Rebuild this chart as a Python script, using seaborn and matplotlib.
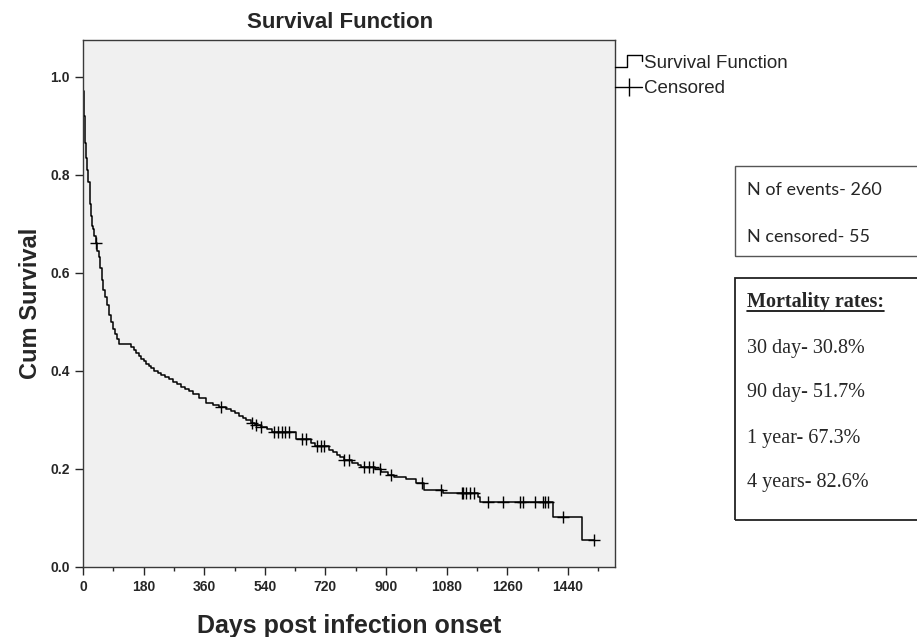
import numpy as np
import pandas as pd
import seaborn as sns
import matplotlib.pyplot as plt
from matplotlib.lines import Line2D
from matplotlib.patches import Rectangle
from matplotlib.legend_handler import HandlerBase
from matplotlib.ticker import MultipleLocator

# Kaplan-Meier 曲线
km_days = [0, 1, 2, 3, 5, 7, 10, 13, 16, 20, 24, 28, 30, 34, 38, 42, 47, 51, 55, 60,
           66, 72, 77, 83, 89, 95, 101, 107, 143, 150, 158, 166, 173, 180, 187, 195,
           203, 211, 222, 232, 244, 256, 268, 280, 292, 303, 315, 327, 345, 366, 385,
           405, 425, 440, 452, 464, 475, 485, 500, 512, 530, 547, 560, 634, 678, 688,
           732, 743, 753, 764, 774, 800, 816, 827, 866, 885, 905, 925, 960, 990, 1014,
           1068, 1172, 1178, 1395, 1482]
km_surv = [1.0, 0.97, 0.945, 0.92, 0.89, 0.865, 0.835, 0.81, 0.785, 0.74, 0.715, 0.695,
           0.69, 0.675, 0.66, 0.645, 0.632, 0.61, 0.585, 0.565, 0.55, 0.535, 0.515, 0.5,
           0.485, 0.475, 0.465, 0.455, 0.449, 0.443, 0.437, 0.431, 0.425, 0.42, 0.415,
           0.41, 0.405, 0.4, 0.396, 0.392, 0.388, 0.384, 0.378, 0.373, 0.368, 0.363,
           0.358, 0.353, 0.345, 0.334, 0.33, 0.327, 0.322, 0.318, 0.314, 0.309, 0.304,
           0.299, 0.294, 0.29, 0.286, 0.281, 0.275, 0.261, 0.252, 0.246, 0.239, 0.234,
           0.229, 0.224, 0.218, 0.213, 0.209, 0.205, 0.199, 0.193, 0.187, 0.184, 0.18,
           0.172, 0.157, 0.151, 0.142, 0.133, 0.102, 0.055]

# 删失时间
censor_days = [38, 410, 503, 515, 530, 568, 580, 590, 600, 613, 649, 663, 696, 708, 717,
               776, 791, 836, 848, 860, 881, 916, 1008, 1062, 1125, 1128, 1136, 1148,
               1160, 1202, 1247, 1297, 1306, 1342, 1366, 1371, 1380, 1425, 1517]

x_ticks = [0, 180, 360, 540, 720, 900, 1080, 1260, 1440]
y_ticks = [0.0, 0.2, 0.4, 0.6, 0.8, 1.0]

info_lines = ['N of events- 260', 'N censored- 55']
mort_title = 'Mortality rates:'
mort_lines = ['30 day- 30.8%', '90 day- 51.7%', '1 year- 67.3%', '4 years- 82.6%']

# 曲线延伸到最后一次随访
curve = pd.DataFrame({'day': km_days + [censor_days[-1]],
                      'surv': km_surv + [km_surv[-1]]})
idx = np.searchsorted(km_days, censor_days, side='right') - 1
cens = pd.DataFrame({'day': censor_days, 'surv': np.array(km_surv)[idx]})

sns.set_style('ticks')
plt.rcParams['font.family'] = ['Liberation Sans', 'DejaVu Sans']

fig = plt.figure(figsize=(9.17, 6.37), dpi=100)
ax = fig.add_axes([83 / 917, 70 / 637, 532 / 917, 527 / 637])
ax.set_facecolor('#f0f0f0')

sns.lineplot(data=curve, x='day', y='surv', drawstyle='steps-post', color='black',
             linewidth=1.1, estimator=None, ax=ax)
sns.scatterplot(data=cens, x='day', y='surv', marker='+', color='black', s=65,
                linewidth=1.0, ax=ax, zorder=3)

ax.set_xlim(0, 1580)
ax.set_ylim(0, 1.075)
ax.set_xticks(x_ticks)
ax.xaxis.set_minor_locator(MultipleLocator(90))
ax.set_yticks(y_ticks)
ax.set_yticklabels([f'{v:.1f}' for v in y_ticks])
ax.tick_params(axis='both', which='major', length=6, width=1, direction='out',
               labelsize=10)
ax.tick_params(axis='x', which='minor', length=3, width=1)
for lab in ax.get_xticklabels() + ax.get_yticklabels():
    lab.set_fontweight('bold')
for sp in ax.spines.values():
    sp.set_visible(True)
    sp.set_color('#3a3a3a')
    sp.set_linewidth(1)

ax.set_xlabel('Days post infection onset', fontsize=18, fontweight='bold', labelpad=14)
ax.set_ylabel('Cum Survival', fontsize=17, fontweight='bold', labelpad=6)
fig.text(340 / 917, 1 - 22 / 637, 'Survival Function', ha='center', va='center',
         fontsize=16, fontweight='bold')


# 图例中的阶梯符号
class StepHandler(HandlerBase):
    def create_artists(self, legend, orig_handle, xdescent, ydescent, width, height,
                       fontsize, trans):
        w, h = width, height
        xs = [-xdescent, 0.45 * w, 0.45 * w, w, w]
        ys = [0.1 * h, 0.1 * h, 0.95 * h, 0.95 * h, 0.55 * h]
        ln = Line2D(xs, ys, color='black', linewidth=1, transform=trans)
        return [ln]


h_step = Line2D([], [], color='black')
h_cens = Line2D([], [], color='black', linewidth=1, marker='|', markersize=13,
                markeredgewidth=1)
ax.legend([h_step, h_cens], ['Survival Function', 'Censored'],
          handler_map={h_step: StepHandler()}, loc='upper left',
          bbox_to_anchor=(1.0, 0.972), frameon=False, borderpad=0, borderaxespad=0,
          handlelength=1.45, handletextpad=0.1, labelspacing=0.45, numpoints=1,
          fontsize=13.5)

# 右侧文字框
fig.patches.append(Rectangle((735 / 917, 1 - 256 / 637), 0.3, 90 / 637,
                             transform=fig.transFigure, fill=False,
                             edgecolor='#555555', linewidth=1))
fig.patches.append(Rectangle((735 / 917, 1 - 520 / 637), 0.3, 242 / 637,
                             transform=fig.transFigure, fill=False,
                             edgecolor='#222222', linewidth=1.3))
for s, yp in zip(info_lines, [190, 237]):
    fig.text(747 / 917, 1 - yp / 637, s, fontsize=13, family=['Lato', 'DejaVu Sans'],
             va='center', ha='left')
t = fig.text(747 / 917, 1 - 302 / 637, mort_title, fontsize=14.5, fontweight='bold',
             family=['Liberation Serif'], va='center', ha='left')
for s, yp in zip(mort_lines, [348, 393, 438, 483]):
    fig.text(747 / 917, 1 - yp / 637, s, fontsize=14.5, family=['Liberation Serif'],
             va='center', ha='left')

# 下划线
fig.canvas.draw()
bb = t.get_window_extent().transformed(fig.transFigure.inverted())
fig.add_artist(Line2D([bb.x0, bb.x1], [bb.y0 + 0.002, bb.y0 + 0.002],
                      transform=fig.transFigure, color='black', linewidth=1.2))

fig.savefig('out.png', dpi=100)
